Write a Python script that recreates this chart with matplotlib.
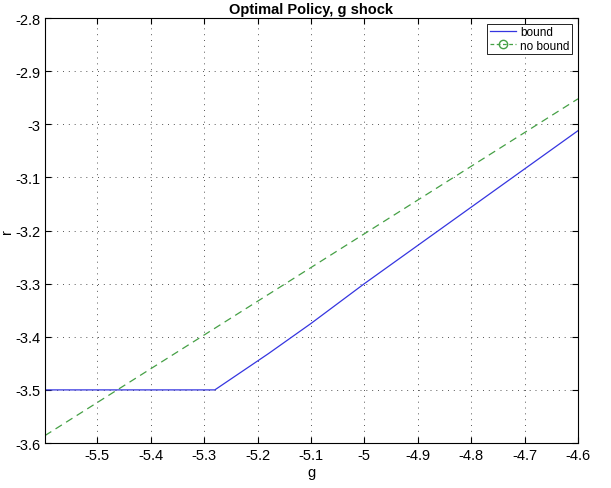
import matplotlib.pyplot as plt
from matplotlib.lines import Line2D

plt.rcParams['font.family'] = ['Liberation Sans', 'DejaVu Sans']

# bound policy (kinked line)
g_bound = [-5.598, -5.28, -5.18, -5.1, -5.0, -4.6]
r_bound = [-3.5, -3.5, -3.432, -3.375, -3.3, -3.012]

# no bound policy (straight line)
g_nobound = [-5.598, -4.6]
r_nobound = [-3.586, -2.952]

xticks = [-5.5, -5.4, -5.3, -5.2, -5.1, -5.0, -4.9, -4.8, -4.7, -4.6]
xticklabels = ['-5.5', '-5.4', '-5.3', '-5.2', '-5.1', '-5', '-4.9', '-4.8', '-4.7', '-4.6']
yticks = [-3.6, -3.5, -3.4, -3.3, -3.2, -3.1, -3.0, -2.9, -2.8]
yticklabels = ['-3.6', '-3.5', '-3.4', '-3.3', '-3.2', '-3.1', '-3', '-2.9', '-2.8']

blue = '#3535e0'
green = '#45a045'

fig = plt.figure(figsize=(6.11, 4.89), dpi=100)
ax = fig.add_axes([0.0736, 0.092, 0.8724, 0.869])

ax.plot(g_bound, r_bound, color=blue, lw=0.9)
ax.plot(g_nobound, r_nobound, color=green, lw=0.9, ls=(0, (6, 4)))

ax.set_xlim(-5.598, -4.6)
ax.set_ylim(-3.6, -2.8)
ax.set_xticks(xticks)
ax.set_xticklabels(xticklabels)
ax.set_yticks(yticks)
ax.set_yticklabels(yticklabels)
ax.tick_params(direction='in', top=True, right=True, labelsize=10.5, length=4)
ax.grid(True, color='#555555', ls=(0, (1, 5)), lw=0.7)
for s in ax.spines.values():
    s.set_linewidth(0.8)

ax.set_xlabel('g', fontsize=10.5, labelpad=2)
ax.set_ylabel('r', fontsize=10.5)
ax.yaxis.set_label_coords(-0.058, 0.5)
ax.set_title('Optimal Policy, g shock', fontsize=10.5, fontweight='bold', pad=4)

handles = [
    Line2D([], [], color=blue, lw=0.9),
    Line2D([], [], color=green, lw=0.9, ls=(0, (3, 2)), marker='o',
           markerfacecolor='none', markersize=6),
]
leg = ax.legend(handles, ['bound', 'no bound'], loc='upper right', fontsize=8.5,
                frameon=True, fancybox=False, edgecolor='black', framealpha=1,
                borderpad=0.2, labelspacing=0.1, handlelength=2.2,
                handletextpad=0.4, borderaxespad=0.5)
leg.get_frame().set_linewidth(0.6)

fig.savefig('out.png', dpi=100)
